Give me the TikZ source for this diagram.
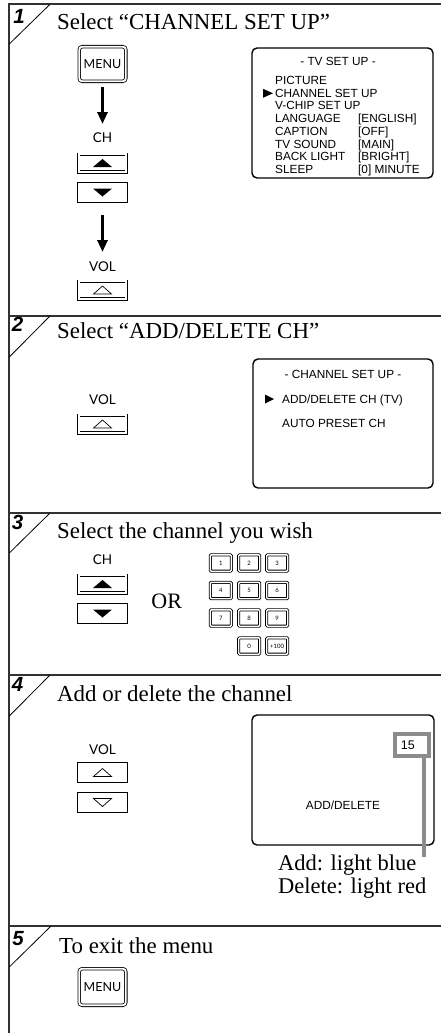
\documentclass[tikz,border=0pt]{standalone}
\usepackage{fontspec}
\setmainfont{Liberation Serif}
\newfontfamily\hdfont{Liberation Serif}
\newfontfamily\menufont{Liberation Sans}
\newfontfamily\numfont{Liberation Sans}
\newfontfamily\btnfont{Lato}
\usetikzlibrary{arrows.meta}
\definecolor{tagcol}{RGB}{140,140,140}
\definecolor{framecol}{RGB}{50,50,50}
\newcommand\trifillup[1]{\fill ([shift={(-9.5,4)}]#1) -- ([shift={(9.5,4)}]#1) -- ([shift={(0,-4)}]#1) -- cycle;}
\newcommand\trifilldn[1]{\fill ([shift={(-9.5,-4)}]#1) -- ([shift={(9.5,-4)}]#1) -- ([shift={(0,4)}]#1) -- cycle;}
\newcommand\trilineup[1]{\draw[line width=0.7pt] ([shift={(-9,4)}]#1) -- ([shift={(9,4)}]#1) -- ([shift={(0,-4)}]#1) -- cycle;}
\newcommand\trilinedn[1]{\draw[line width=0.7pt] ([shift={(-9,-4)}]#1) -- ([shift={(9,-4)}]#1) -- ([shift={(0,4)}]#1) -- cycle;}
\begin{document}
\begin{tikzpicture}[x=1pt,y=-1pt,
  frameline/.style={line width=2pt,draw=framecol},
  diag/.style={line width=0.8pt},
  stepnum/.style={font=\numfont\bfseries\itshape\fontsize{20.5}{21}\selectfont, inner sep=0pt},
  heading/.style={font=\hdfont\fontsize{22.9}{26}\selectfont, anchor=base west, inner sep=0pt},
  note/.style={font=\hdfont\fontsize{22.5}{26}\selectfont, anchor=base west, inner sep=0pt},
  lbl/.style={font=\btnfont\fontsize{13.5}{14}\selectfont, anchor=base, inner sep=0pt},
  menubtn/.style={draw, double, double distance=1.8pt, line width=0.8pt, rounded corners=3pt, minimum width=46.6pt, minimum height=34.6pt, inner sep=0pt, font=\btnfont\fontsize{12.5}{12.5}\selectfont},
  btn/.style={draw, double, double distance=1.8pt, line width=0.8pt, minimum width=47.6pt, minimum height=17.6pt, inner sep=0pt},
  key/.style={draw, double, double distance=1.4pt, line width=0.8pt, rounded corners=1pt, minimum width=21pt, minimum height=16.4pt, inner sep=0pt, font=\btnfont\fontsize{6}{6}\selectfont},
  screen/.style={draw, line width=1.4pt, rounded corners=5pt},
  mtxt/.style={font=\menufont\fontsize{11.8}{12}\selectfont, anchor=base west, inner sep=0pt},
  tagbox/.style={draw=tagcol, line width=3.6pt, fill=white, minimum width=34.4pt, minimum height=22.4pt, text width=22.4pt, align=left, inner sep=6pt, font=\menufont\fontsize{12.5}{13}\selectfont},
  tagline/.style={draw=tagcol, line width=3.6pt},
  bigarrow/.style={line width=3pt, -{Triangle[width=10pt,length=12pt]}},
]
\useasboundingbox (0,0) rectangle (441,1033);
\fill[white] (0,0) rectangle (441,1033);

% frame
\draw[frameline] (441,4.3) -- (9.3,4.3) -- (9.3,1033);
\draw[frameline] (9.3,316) -- (441,316);
\draw[frameline] (9.3,513) -- (441,513);
\draw[frameline] (9.3,675) -- (441,675);
\draw[frameline] (9.3,926) -- (441,926);

% step corners
\draw[diag] (50,4.3) -- (9.3,44);
\draw[diag] (50,316) -- (9.3,357);
\draw[diag] (50,513) -- (9.3,553);
\draw[diag] (50,675) -- (9.3,716);
\draw[diag] (51,926) -- (9.3,967);
\node[stepnum] (n1) at (19,16) {1};
\node[stepnum] (n2) at (17.5,324.5) {2};
\node[stepnum] (n3) at (17.5,522.5) {3};
\node[stepnum] (n4) at (17.5,684.5) {4};
\node[stepnum] (n5) at (18,939) {5};

% headings
\node[heading] (h1) at (57,29.3) {Select “CHANNEL SET UP”};
\node[heading] (h2) at (57,338.4) {Select “ADD/DELETE CH”};
\node[heading] (h3) at (57,538) {Select the channel you wish};
\node[heading] (h4) at (57,701.7) {Add or delete the channel};
\node[heading] (h5) at (59,953.3) {To exit the menu};

% ---- section 1
\node[menubtn] (menuA) at (102.5,64) {MENU};
\node[lbl] (chA) at (102.5,142.5) {CH};
\node[btn] (chAup) at (102.5,163) {};
\node[btn] (chAdn) at (102.5,192.5) {};
\trifillup{chAup.center}
\trifilldn{chAdn.center}
\node[lbl] (volA) at (102.5,271.5) {VOL};
\node[btn] (volAup) at (102.5,290) {};
\trilineup{volAup.center}
\draw[bigarrow, shorten <=5.7pt, shorten >=8.5pt] (menuA.south) -- (chA.north);
\draw[bigarrow, shorten <=13.5pt, shorten >=9.5pt] (chAdn.south) -- (volA.north);

\draw[screen] (252,48) rectangle (433,178);
\node[mtxt, anchor=base] (m1t) at (338,65.9) {- TV SET UP -};
\node[mtxt] (m1a) at (275,84.2) {PICTURE};
\node[mtxt] (m1b) at (275,97.5) {CHANNEL SET UP};
\node[mtxt] (m1c) at (275,109.9) {V-CHIP SET UP};
\node[mtxt] (m1d) at (275,122.5) {LANGUAGE};
\node[mtxt] (m1e) at (275,135.2) {CAPTION};
\node[mtxt] (m1f) at (275,148.2) {TV SOUND};
\node[mtxt] (m1g) at (275,160.9) {BACK LIGHT};
\node[mtxt] (m1h) at (275,173.2) {SLEEP};
\node[mtxt] (m1dv) at (358,122.5) {[ENGLISH]};
\node[mtxt] (m1ev) at (358,135.2) {[OFF]};
\node[mtxt] (m1fv) at (358,148.2) {[MAIN]};
\node[mtxt] (m1gv) at (358,160.9) {[BRIGHT]};
\node[mtxt] (m1hv) at (358,173.2) {[0] MINUTE};
\fill (263,88.8) -- (263,97.8) -- (273,93.3) -- cycle;

% ---- section 2
\node[lbl] (volB) at (102.5,404.5) {VOL};
\node[btn] (volBup) at (102.5,424) {};
\trilineup{volBup.center}
\draw[screen] (253,359) rectangle (433,488);
\node[mtxt, anchor=base] (m2t) at (343,378.2) {- CHANNEL SET UP -};
\node[mtxt] (m2a) at (282,403.2) {ADD/DELETE CH (TV)};
\node[mtxt] (m2b) at (282,427.2) {AUTO PRESET CH};
\fill (265,394.5) -- (265,403.5) -- (274,399) -- cycle;

% ---- section 3
\node[lbl] (chC) at (102.5,564.5) {CH};
\node[btn] (chCup) at (102.5,584) {};
\node[btn] (chCdn) at (102.5,613.5) {};
\trifillup{chCup.center}
\trifilldn{chCdn.center}
\node[font=\hdfont\fontsize{22}{22}\selectfont, inner sep=0pt] (or) at (166.7,601.7) {OR};
\node[key] (k1) at (220.8,563) {1};
\node[key] (k2) at (249.2,563) {2};
\node[key] (k3) at (277.2,563) {3};
\node[key] (k4) at (220.8,590.5) {4};
\node[key] (k5) at (249.2,590.5) {5};
\node[key] (k6) at (277.2,590.5) {6};
\node[key] (k7) at (220.8,618) {7};
\node[key] (k8) at (249.2,618) {8};
\node[key] (k9) at (277.2,618) {9};
\node[key] (k0) at (249.2,646) {0};
\node[key] (k100) at (277.2,646) {+100};

% ---- section 4
\node[lbl] (volD) at (102.5,754.5) {VOL};
\node[btn] (volDup) at (102.5,772.5) {};
\node[btn] (volDdn) at (102.5,802.5) {};
\trilineup{volDup.center}
\trilinedn{volDdn.center}
\draw[screen] (252,715) rectangle (434,845);
\coordinate (tagend) at (423.7,857);
\node[tagbox] (ch15) at (412,745) {15};
\draw[tagline] (ch15.south -| tagend) -- (tagend);
\node[mtxt, anchor=base] (adl) at (343,809.2) {ADD/DELETE};
\node[note] (addn) at (278,870) {Add: light blue};
\node[note] (deln) at (278,893) {Delete: light red};

% ---- section 5
\node[menubtn, minimum height=36.6pt] (menuE) at (102.5,987) {MENU};
\end{tikzpicture}
\end{document}
